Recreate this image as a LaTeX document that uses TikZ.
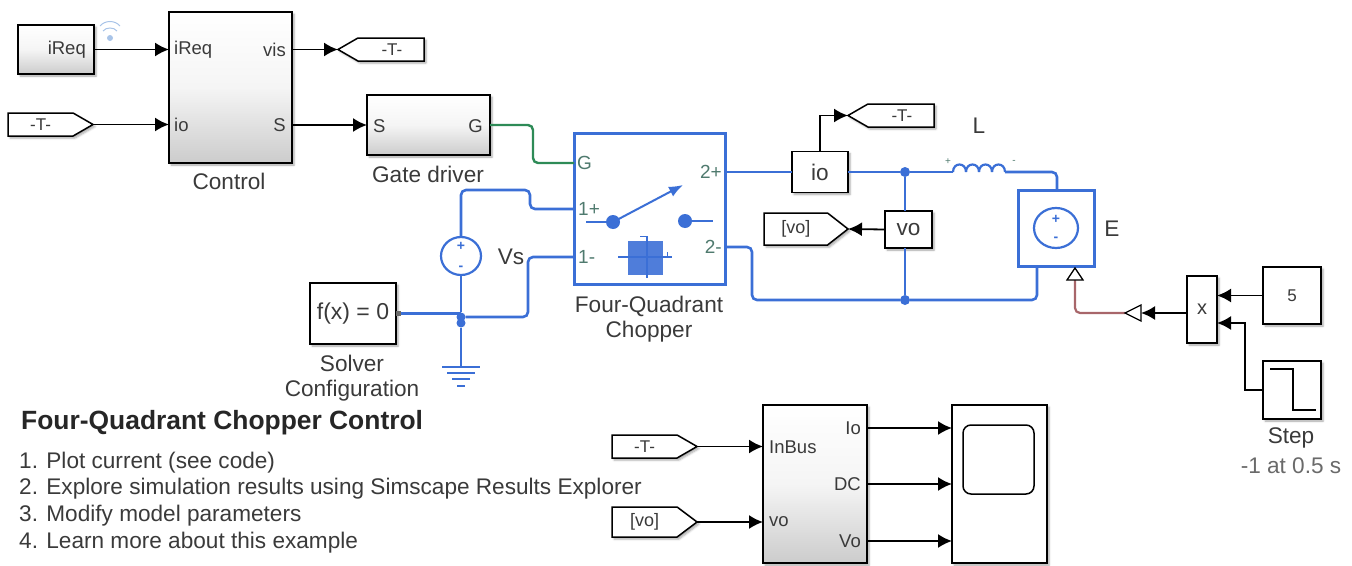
\documentclass[tikz,border=0pt]{standalone}
\usepackage{fontspec}
\setmainfont{Liberation Sans}
\usetikzlibrary{arrows.meta,shapes.geometric,shapes.symbols,shadows.blur}
\definecolor{simblue}{HTML}{3B6FD6}
\definecolor{simgreen}{HTML}{2E8B57}
\definecolor{simbrown}{HTML}{A8666A}
\definecolor{simtext}{HTML}{3A3A3A}
\definecolor{simport}{HTML}{4F7A6E}
\definecolor{simgrey}{HTML}{6A6A6A}
\definecolor{simwifi}{HTML}{A9C4E8}
\begin{document}
\begin{tikzpicture}[x=1pt,y=-1pt,
        shade blk/.style={blur shadow={shadow xshift=2pt, shadow yshift=-2pt, shadow blur steps=5, shadow opacity=35}},
        blk/.style={draw=black, line width=1.5pt, fill=white, outer sep=0pt, inner sep=0pt, shade blk},
        grad/.style={blk, top color=white, bottom color=black!20, middle color=black!4},
        sig/.style={blk, signal, signal to=east, text=simtext, font=\fontsize{17}{20}\selectfont},
        lbl/.style={inner sep=0pt, text=simtext, font=\fontsize{22.6}{26}\selectfont},
        prt/.style={inner sep=0pt, text=simtext, font=\fontsize{18.5}{22}\selectfont},
        tprt/.style={inner sep=0pt, text=simport, font=\fontsize{19}{22}\selectfont},
        wire/.style={draw=black, line width=1.8pt},
        arr/.style={wire, -{Latex[length=14pt,width=14pt]}},
        elec/.style={draw=simblue, line width=2.6pt, rounded corners=5pt},
        jn/.style={circle, fill=simblue, inner sep=0pt, minimum size=10pt},
      ]
      \useasboundingbox (0,0) rectangle (1352,565);

      % Control section
      \node[grad, minimum width=76pt, minimum height=49pt] (iReq) at (56,49.5) {};
      \node[prt, anchor=east] (iReqTxt) at (86,50) {iReq};
      \node[grad, minimum width=123pt, minimum height=151pt] (control) at (230.5,87.5) {};
      \node[lbl] (controlLbl) at (229,181) {Control};
      \node[prt, anchor=west] (ctlA) at (174,50) {iReq};
      \node[prt, anchor=west] (ctlB) at (174,125) {io};
      \node[prt, anchor=east] (ctlC) at (286,50) {vis};
      \node[prt, anchor=east] (ctlD) at (286,125) {S};
      \node[sig, signal to=west, signal pointer angle=60, minimum width=86pt, minimum height=23pt, anchor=east] (gotoVis) at (424,49.5) {\hspace{2pt}-T-};
      \node[sig, signal pointer angle=60, minimum width=85pt, minimum height=23pt, anchor=west] (fromIo) at (8,124.5) {-T-\hspace{12pt}};
      \node[grad, minimum width=123pt, minimum height=60pt] (gate) at (428.5,125) {};
      \node[prt, anchor=west] (gateS) at (373,126) {S};
      \node[prt, anchor=east] (gateG) at (483,126) {G};
      \node[lbl] (gateLbl) at (428,174) {Gate driver};
      \draw[arr] (iReq.east) -- (iReq.east -| control.west);
      \draw[arr] (fromIo.east) -- (fromIo.east -| control.west);
      \draw[arr] (control.east |- gotoVis.west) -- (gotoVis.west);
      \draw[arr] (control.east |- gate.west) -- (gate.west);

      % Wireless mark on the iReq block
      \fill[simwifi] (110,38) circle (3pt);
      \draw[simwifi, line width=1pt] (103,31) .. controls (106,27) and (114,27) .. (117,31);
      \draw[simwifi, line width=1pt] (100,26) .. controls (105,20) and (115,20) .. (120,26);

      % Chopper
      \node[draw=simblue, fill=white, line width=3pt, outer sep=0pt, minimum width=151pt, minimum height=151pt] (chopper) at (649.5,208.5) {};
      \node[tprt, anchor=west] (chG) at (577,163) {G};
      \node[tprt, anchor=west] (chA) at (578,209) {1+};
      \node[tprt, anchor=west] (chB) at (578,257) {1-};
      \node[tprt, anchor=east] (chC) at (722,172) {2+};
      \node[tprt, anchor=east] (chD) at (722,247) {2-};
      \node[lbl] (chopLbl) at (649,306) {Four-Quadrant};
      \node[lbl] (chopLblB) at (649,332) {Chopper};
      \draw[simblue, line width=2pt] (586,222) -- (613,222);
      \draw[simblue, line width=2pt] (685,221) -- (713,221);
      \fill[simblue] (613,222) circle (7pt);
      \fill[simblue] (685,221) circle (7pt);
      \draw[simblue, line width=2pt, -{Latex[length=14pt,width=11pt]}] (613,222) -- (683,185);
      \fill[simblue!90!white] (628,241) rectangle (663,275);
      \draw[simblue, line width=1.2pt] (618,257) -- (672,257);
      \draw[simblue, line width=1.2pt] (647,236) -- (647,278);
      \draw[simblue, line width=1pt] (640,236) -- (648,236) (667,252) -- (667,257);
      \coordinate (chopG) at (574,163);
      \coordinate (chopP) at (574,209);
      \coordinate (chopM) at (574,257);
      \coordinate (chopOP) at (725,172);
      \coordinate (chopOM) at (725,247);
      \draw[draw=simgreen, line width=2.4pt, rounded corners=5pt] (gate.east) -- (533,125) -- (533,163) -- (chopG);

      % Supply side
      \node[ellipse, draw=simblue, line width=2.2pt, fill=white, outer sep=0pt, inner sep=0pt, minimum width=40pt, minimum height=38pt] (vs) at (461,256) {};
      \node[inner sep=0pt, text=simblue, font=\bfseries\fontsize{14}{14}\selectfont] (vsP) at (461,246) {+};
      \node[inner sep=0pt, text=simblue, font=\bfseries\fontsize{14}{14}\selectfont] (vsM) at (461,268) {-};
      \node[lbl] (vsLbl) at (511,257) {Vs};
      \node[blk, minimum width=86pt, minimum height=61pt, font=\fontsize{23}{26}\selectfont, text=simtext] (solver) at (353,313.5) {f(x) = 0};
      \node[lbl] (solverLbl) at (352,363) {Solver};
      \node[lbl] (solverLblB) at (352,391) {Configuration};
      \node[jn, minimum size=9pt] (jGndA) at (461,317) {};
      \node[jn, minimum size=9pt] (jGndB) at (461,323) {};
      \coordinate (gnd) at (461,367);
      \draw[elec] (chopP) -- (530,209) -- (530,190) -- (461,190) -- (vs.north);
      \draw[elec] (chopM) -- (528,257) -- (528,317) -- (jGndA);
      \draw[elec] (vs.south) -- (jGndA);
      \draw[elec] (solver.east) -- (jGndA |- solver.east);
      \draw[elec] (jGndB) -- (gnd);
      \fill[simgrey] (396,310.5) rectangle (401,315.5);
      \draw[simblue, line width=2.2pt] (442,367) -- (480,367);
      \draw[simblue, line width=2.2pt] (447,373) -- (475,373);
      \draw[simblue, line width=2.2pt] (452,379) -- (470,379);
      \draw[simblue, line width=2.2pt] (457,386) -- (465,386);

      % Load side
      \node[blk, minimum width=56pt, minimum height=41pt, font=\fontsize{22.6}{26}\selectfont, text=simtext] (io) at (820,172) {io};
      \node[sig, signal to=west, signal pointer angle=60, minimum width=86pt, minimum height=23pt, anchor=east] (gotoIo) at (934,115.5) {\hspace{2pt}-T-};
      \node[blk, minimum width=47pt, minimum height=37pt, font=\fontsize{22.6}{26}\selectfont, text=simtext] (vo) at (908.5,229.5) {vo};
      \node[sig, signal pointer angle=76, minimum width=84pt, minimum height=32pt, anchor=west, font=\fontsize{18}{22}\selectfont] (gotoVo) at (764,229) {[vo]\hspace{10pt}};
      \node[jn] (jTop) at (905,172) {};
      \node[jn] (jBot) at (905,300) {};
      \node[draw=simblue, fill=white, line width=3pt, outer sep=0pt, minimum width=76pt, minimum height=76pt] (eSrc) at (1056,228) {};
      \node[ellipse, draw=simblue, line width=2.2pt, outer sep=0pt, inner sep=0pt, minimum width=44pt, minimum height=40pt] (eCirc) at (1056,228) {};
      \node[inner sep=0pt, text=simblue, font=\bfseries\fontsize{14}{14}\selectfont] (eP) at (1056,219) {+};
      \node[inner sep=0pt, text=simblue, font=\bfseries\fontsize{14}{14}\selectfont] (eM) at (1056,239) {-};
      \node[lbl] (eLbl) at (1112,229) {E};
      \node[lbl] (lLbl) at (979,126) {L};
      \node[inner sep=0pt, text=simport, font=\fontsize{10}{10}\selectfont] (lP) at (948,162) {+};
      \node[inner sep=0pt, text=simport, font=\fontsize{10}{10}\selectfont] (lM) at (1014,162) {-};
      \coordinate (lIn) at (953,172);
      \coordinate (lOut) at (1005,172);
      \coordinate (eTop) at (1057,190);
      \coordinate (eBot) at (1037,266);
      \draw[arr] (io.north) |- (gotoIo.west);
      \draw[elec] (chopOP) -- (io.west);
      \draw[elec] (io.east) -- (jTop) -- (lIn);
      \draw[elec] (lOut) -- (1057,172) -- (eTop);
      \draw[elec] (chopOM) -- (752,247) -- (752,300) -- (jBot) -- (1037,300) -- (eBot);
      \draw[elec] (jTop) -- (jTop |- vo.north);
      \draw[elec] (jBot) -- (jBot |- vo.south);
      \draw[arr] (vo.west) -- (gotoVo.east);
      % Inductor humps
      \foreach \hx in {953,966,979,992}
        \draw[simblue, line width=2.2pt] (\hx,172) .. controls (\hx,162) and (\hx+13,162) .. (\hx+13,172);

      % Physical signal into E
      \node[blk, minimum width=30pt, minimum height=67pt, font=\fontsize{20}{24}\selectfont, text=simtext] (mul) at (1202,309.5) {x};
      \node[blk, minimum width=58pt, minimum height=57pt, font=\fontsize{17}{20}\selectfont, text=simtext] (five) at (1292,295.5) {5};
      \node[blk, minimum width=58pt, minimum height=58pt] (stepb) at (1292,390) {};
      \node[lbl] (stepLbl) at (1291,438) {Step};
      \node[inner sep=0pt, text=simgrey, font=\fontsize{22.6}{26}\selectfont] (stepVal) at (1291,466) {-1 at 0.5 s};
      \draw[black, line width=1.4pt] (1270,369) -- (1293,369) -- (1293,410) -- (1316,410);
      \coordinate (eIn) at (1075,280);
      \coordinate (psIn) at (1125,313);
      \coordinate (psOut) at (1141,313);
      \coordinate (mulB) at (1217,323);
      \draw[draw=simbrown, line width=2.2pt, rounded corners=5pt] (eIn) -- (1075,313) -- (psIn);
      \draw[fill=white, line width=1.3pt] (1075,268) -- (1067,280) -- (1083,280) -- cycle;
      \draw[fill=white, line width=1.3pt] (1125,313) -- (1141,305) -- (1141,321) -- cycle;
      \draw[arr] (mul.west |- psOut) -- (psOut);
      \draw[arr] (five.west) -- (five.west -| mul.east);
      \draw[arr] (stepb.west) -- (1245,390) -- (1245,323) -- (mulB);

      % Scope section
      \node[sig, signal pointer angle=60, minimum width=85pt, minimum height=23pt, anchor=west] (fromBus) at (612,446.5) {-T-\hspace{12pt}};
      \node[sig, signal pointer angle=74, minimum width=85pt, minimum height=30pt, anchor=west, font=\fontsize{18}{22}\selectfont] (fromVo) at (612,522) {[vo]\hspace{10pt}};
      \node[grad, minimum width=104pt, minimum height=158pt] (bus) at (815,484) {};
      \node[prt, anchor=west] (busA) at (769,447) {InBus};
      \node[prt, anchor=west] (busB) at (769,522) {vo};
      \node[prt, anchor=east] (busC) at (861,428) {Io};
      \node[prt, anchor=east] (busD) at (861,484) {DC};
      \node[prt, anchor=east] (busE) at (861,541) {Vo};
      \node[blk, minimum width=95pt, minimum height=158pt] (scopeb) at (999.5,484) {};
      \node[draw=black, line width=1.5pt, rounded corners=8pt, outer sep=0pt, minimum width=71pt, minimum height=69pt] (screen) at (998.5,459.5) {};
      \coordinate (busIo) at (867,428);
      \coordinate (busDc) at (867,484);
      \coordinate (busVo) at (867,541);
      \draw[arr] (fromBus.east) -- (fromBus.east -| bus.west);
      \draw[arr] (fromVo.east) -- (fromVo.east -| bus.west);
      \draw[arr] (busIo) -- (busIo -| scopeb.west);
      \draw[arr] (busDc) -- (busDc -| scopeb.west);
      \draw[arr] (busVo) -- (busVo -| scopeb.west);

      % Notes
      \node[anchor=west, inner sep=0pt, text=black!85, font=\bfseries\fontsize{26.4}{30}\selectfont] (title) at (21,423) {Four-Quadrant Chopper Control};
      \node[lbl, anchor=west] (noteA) at (19,463) {1. Plot current (see code)};
      \node[lbl, anchor=west] (noteB) at (19,489) {2. Explore simulation results using Simscape Results Explorer};
      \node[lbl, anchor=west] (noteC) at (19,516) {3. Modify model parameters};
      \node[lbl, anchor=west] (noteD) at (19,543) {4. Learn more about this example};
    \end{tikzpicture}
\end{document}
